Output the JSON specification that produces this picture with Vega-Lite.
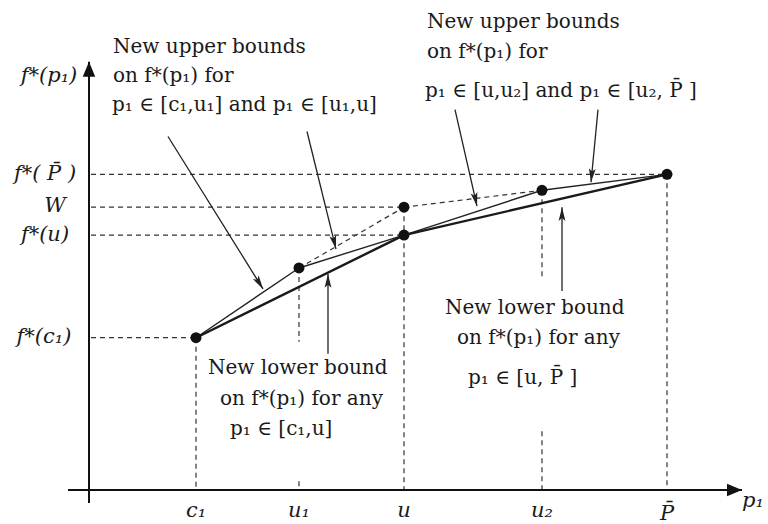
{
  "$schema": "https://vega.github.io/schema/vega-lite/v6.json",
  "width": 768,
  "height": 524,
  "padding": 0,
  "autosize": {"type": "fit", "contains": "padding"},
  "background": "white",
  "config": {"view": {"stroke": null}},
  "datasets": {
    "segs": [
      {"x": 68, "y": 32, "x2": 742, "y2": 32, "kind": "axis"},
      {"x": 89, "y": 19, "x2": 89, "y2": 462, "kind": "axis"},
      {"x": 91, "y": 349, "x2": 667, "y2": 349, "kind": "guide"},
      {"x": 91, "y": 316, "x2": 404, "y2": 316, "kind": "guide"},
      {"x": 91, "y": 288, "x2": 404, "y2": 288, "kind": "guide"},
      {"x": 91, "y": 185, "x2": 196, "y2": 185, "kind": "guide"},
      {"x": 196, "y": 185, "x2": 196, "y2": 32, "kind": "guide"},
      {"x": 299, "y": 255, "x2": 299, "y2": 181, "kind": "guide"},
      {"x": 299, "y": 41, "x2": 299, "y2": 32, "kind": "guide"},
      {"x": 404, "y": 316, "x2": 404, "y2": 32, "kind": "guide"},
      {"x": 542, "y": 333, "x2": 542, "y2": 246, "kind": "guide"},
      {"x": 542, "y": 91, "x2": 542, "y2": 32, "kind": "guide"},
      {"x": 667, "y": 349, "x2": 667, "y2": 32, "kind": "guide"},
      {"x": 299, "y": 255, "x2": 404, "y2": 316, "kind": "guide"},
      {"x": 404, "y": 316, "x2": 542, "y2": 333, "kind": "guide"},
      {"x": 196, "y": 185, "x2": 299, "y2": 255, "kind": "thin"},
      {"x": 299, "y": 255, "x2": 404, "y2": 288, "kind": "thin"},
      {"x": 404, "y": 288, "x2": 542, "y2": 333, "kind": "thin"},
      {"x": 542, "y": 333, "x2": 667, "y2": 349, "kind": "thin"},
      {"x": 196, "y": 185, "x2": 404, "y2": 288, "kind": "thick"},
      {"x": 404, "y": 288, "x2": 667, "y2": 349, "kind": "thick"},
      {"x": 168, "y": 387, "x2": 263, "y2": 234, "kind": "pointer"},
      {"x": 307, "y": 392, "x2": 336, "y2": 274, "kind": "pointer"},
      {"x": 455, "y": 414, "x2": 477, "y2": 317, "kind": "pointer"},
      {"x": 598, "y": 414, "x2": 591, "y2": 341, "kind": "pointer"},
      {"x": 328, "y": 169, "x2": 328, "y2": 249, "kind": "pointer"},
      {"x": 562, "y": 232, "x2": 562, "y2": 316, "kind": "pointer"}
    ],
    "dots": [
      {"x": 196, "y": 185, "name": "c1"},
      {"x": 299, "y": 255, "name": "u1"},
      {"x": 404, "y": 288, "name": "u"},
      {"x": 404, "y": 316, "name": "W"},
      {"x": 542, "y": 333, "name": "u2"},
      {"x": 667, "y": 349, "name": "Pbar"}
    ],
    "labels": [
      {"x": 113, "y": 471, "text": "New upper bounds", "grp": "block"},
      {"x": 113, "y": 442, "text": "on f*(p₁) for", "grp": "block"},
      {"x": 112, "y": 413, "text": "p₁ ∈ [c₁,u₁] and p₁ ∈ [u₁,u]", "grp": "block"},
      {"x": 427, "y": 496, "text": "New upper bounds", "grp": "block"},
      {"x": 427, "y": 466, "text": "on f*(p₁) for", "grp": "block"},
      {"x": 425, "y": 427, "text": "p₁ ∈ [u,u₂] and p₁ ∈ [u₂, P̄ ]", "grp": "block"},
      {"x": 208, "y": 149, "text": "New lower bound", "grp": "block"},
      {"x": 220, "y": 117, "text": "on f*(p₁) for any", "grp": "block"},
      {"x": 230, "y": 87, "text": "p₁ ∈ [c₁,u]", "grp": "block"},
      {"x": 445, "y": 209, "text": "New lower bound", "grp": "block"},
      {"x": 457, "y": 179, "text": "on f*(p₁) for any", "grp": "block"},
      {"x": 468, "y": 139, "text": "p₁ ∈ [u, P̄ ]", "grp": "block"},
      {"x": 49, "y": 448, "text": "f*(p₁)", "grp": "ylab"},
      {"x": 45, "y": 349, "text": "f*( P̄ )", "grp": "ylab"},
      {"x": 55, "y": 317, "text": "W", "grp": "ylab"},
      {"x": 45, "y": 288, "text": "f*(u)", "grp": "ylab"},
      {"x": 44, "y": 186, "text": "f*(c₁)", "grp": "ylab"},
      {"x": 196, "y": 11, "text": "c₁", "grp": "xlab"},
      {"x": 299, "y": 11, "text": "u₁", "grp": "xlab"},
      {"x": 404, "y": 11, "text": "u", "grp": "xlab"},
      {"x": 542, "y": 11, "text": "u₂", "grp": "xlab"},
      {"x": 667, "y": 8, "text": "P̄", "grp": "xlab"},
      {"x": 753, "y": 21, "text": "p₁", "grp": "xlab"}
    ]
  },
  "encoding": {
    "x": {"field": "x", "type": "quantitative", "scale": {"domain": [0, 768], "nice": false, "zero": false}, "axis": null},
    "y": {"field": "y", "type": "quantitative", "scale": {"domain": [0, 524], "nice": false, "zero": false}, "axis": null}
  },
  "layer": [
    {
      "data": {"name": "segs"},
      "transform": [{"filter": "datum.kind === 'guide'"}],
      "mark": {"type": "rule", "strokeDash": [5, 4], "strokeWidth": 1.2, "color": "#333333"},
      "encoding": {"x2": {"field": "x2"}, "y2": {"field": "y2"}}
    },
    {
      "data": {"name": "segs"},
      "transform": [{"filter": "datum.kind === 'thin'"}],
      "mark": {"type": "rule", "strokeWidth": 1.4, "color": "#222222"},
      "encoding": {"x2": {"field": "x2"}, "y2": {"field": "y2"}}
    },
    {
      "data": {"name": "segs"},
      "transform": [{"filter": "datum.kind === 'thick'"}],
      "mark": {"type": "rule", "strokeWidth": 2.4, "color": "#1a1a1a"},
      "encoding": {"x2": {"field": "x2"}, "y2": {"field": "y2"}}
    },
    {
      "data": {"name": "segs"},
      "transform": [{"filter": "datum.kind === 'axis'"}],
      "mark": {"type": "rule", "strokeWidth": 2, "color": "#111111"},
      "encoding": {"x2": {"field": "x2"}, "y2": {"field": "y2"}}
    },
    {
      "data": {"name": "segs"},
      "transform": [{"filter": "datum.kind === 'pointer'"}],
      "mark": {"type": "rule", "strokeWidth": 1.3, "color": "#222222"},
      "encoding": {"x2": {"field": "x2"}, "y2": {"field": "y2"}}
    },
    {
      "data": {"name": "segs"},
      "transform": [
        {"filter": "datum.kind === 'pointer'"},
        {"calculate": "atan2(datum.x2 - datum.x, datum.y2 - datum.y) * 180 / PI", "as": "ang"}
      ],
      "mark": {"type": "point", "shape": "M0,0L0.3,1.2L0,0.95L-0.3,1.2Z", "filled": true, "opacity": 1, "size": 520, "color": "#222222"},
      "encoding": {
        "x": {"field": "x2", "type": "quantitative", "scale": {"domain": [0, 768], "nice": false, "zero": false}, "axis": null},
        "y": {"field": "y2", "type": "quantitative", "scale": {"domain": [0, 524], "nice": false, "zero": false}, "axis": null},
        "angle": {"field": "ang", "type": "quantitative", "scale": null}
      }
    },
    {
      "data": {"name": "segs"},
      "transform": [
        {"filter": "datum.kind === 'axis'"},
        {"calculate": "atan2(datum.x2 - datum.x, datum.y2 - datum.y) * 180 / PI", "as": "ang"}
      ],
      "mark": {"type": "point", "shape": "M0,0L0.5,1.2L-0.5,1.2Z", "filled": true, "opacity": 1, "size": 625, "color": "#111111"},
      "encoding": {
        "x": {"field": "x2", "type": "quantitative", "scale": {"domain": [0, 768], "nice": false, "zero": false}, "axis": null},
        "y": {"field": "y2", "type": "quantitative", "scale": {"domain": [0, 524], "nice": false, "zero": false}, "axis": null},
        "angle": {"field": "ang", "type": "quantitative", "scale": null}
      }
    },
    {
      "data": {"name": "dots"},
      "mark": {"type": "point", "shape": "circle", "filled": true, "opacity": 1, "size": 120, "color": "#111111"}
    },
    {
      "data": {"name": "labels"},
      "transform": [{"filter": "datum.grp === 'block'"}],
      "mark": {"type": "text", "align": "left", "baseline": "alphabetic", "font": "DejaVu Serif", "fontSize": 20, "color": "#1a1a1a"},
      "encoding": {"text": {"field": "text"}}
    },
    {
      "data": {"name": "labels"},
      "transform": [{"filter": "datum.grp !== 'block'"}],
      "mark": {"type": "text", "align": "center", "baseline": "middle", "font": "DejaVu Serif", "fontStyle": "italic", "fontSize": 21, "color": "#1a1a1a"},
      "encoding": {"text": {"field": "text"}}
    }
  ]
}
